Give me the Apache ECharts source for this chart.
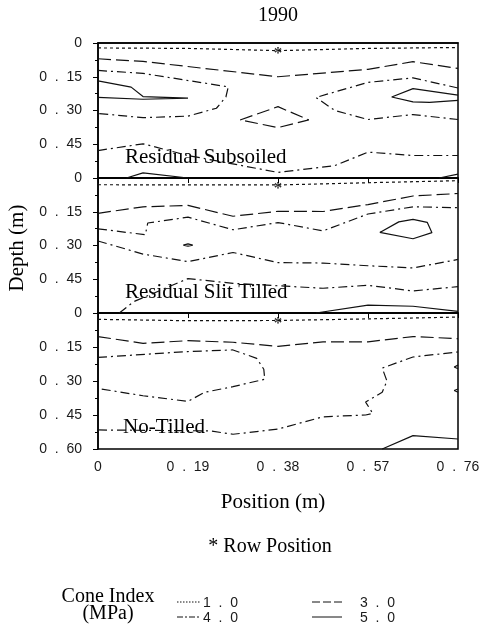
<!DOCTYPE html>
<html>
<head>
<meta charset="utf-8">
<script src="https://cdn.jsdelivr.net/npm/echarts@6/dist/echarts.min.js"></script>
<style>
html,body{margin:0;padding:0;background:#fff;}
#chart{width:483px;height:638px;}
</style>
</head>
<body>
<div id="chart"></div>
<script>
// ---------- data (x = position m, y = depth m) ----------
const xTicks = [0, 0.19, 0.38, 0.57, 0.76];
const depthTicks = [0, 0.15, 0.30, 0.45, 0.60];
const panelNames = ['Residual Subsoiled', 'Residual Slit Tilled', 'No-Tilled'];
const levels = ['1.0', '3.0', '4.0', '5.0'];
const rowPosition = [0.38, 0.024];

// Panel 1 : Residual Subsoiled
const sub_10a = [[0,0.022],[0.19,0.024],[0.38,0.034],[0.57,0.024],[0.76,0.02]];
const sub_30a = [[0,0.07],[0.095,0.082],[0.38,0.15],[0.57,0.117],[0.665,0.083],[0.76,0.113]];
const sub_30b = [[0.3,0.342],[0.38,0.283],[0.445,0.342],[0.38,0.376],[0.3,0.342]];
const sub_40a = [[0,0.122],[0.095,0.135],[0.275,0.195],[0.27,0.24],[0.25,0.29],[0.19,0.325],[0.095,0.332],[0,0.313]];
const sub_40b = [[0.76,0.2],[0.665,0.155],[0.57,0.175],[0.46,0.242],[0.5,0.3],[0.57,0.34],[0.665,0.318],[0.76,0.34]];
const sub_40c = [[0,0.478],[0.095,0.448],[0.19,0.5],[0.38,0.575],[0.5,0.545],[0.57,0.485],[0.665,0.5],[0.76,0.5]];
const sub_50a = [[0,0.168],[0.07,0.196],[0.095,0.238],[0.19,0.245],[0.095,0.25],[0,0.242]];
const sub_50b = [[0.76,0.232],[0.665,0.203],[0.62,0.24],[0.665,0.262],[0.7,0.264],[0.76,0.255]];
const sub_50c = [[0.06,0.6],[0.095,0.577],[0.19,0.6]];
const sub_50d = [[0.72,0.6],[0.76,0.583]];

// Panel 2 : Residual Slit Tilled
const slit_10a = [[0,0.03],[0.38,0.031],[0.57,0.021],[0.76,0.012]];
const slit_30a = [[0,0.157],[0.095,0.128],[0.19,0.122],[0.285,0.17],[0.38,0.148],[0.475,0.149],[0.57,0.118],[0.665,0.08],[0.76,0.069]];
const slit_40a = [[0,0.226],[0.1,0.252],[0.105,0.2],[0.19,0.174],[0.285,0.23],[0.38,0.198],[0.475,0.235],[0.57,0.16],[0.665,0.128],[0.76,0.132]];
const slit_40b = [[0,0.28],[0.095,0.338],[0.19,0.372],[0.285,0.331],[0.38,0.376],[0.475,0.378],[0.57,0.39],[0.665,0.4],[0.76,0.362]];
const slit_40c = [[0.045,0.6],[0.075,0.55],[0.19,0.447],[0.285,0.468],[0.475,0.49],[0.57,0.477],[0.665,0.502],[0.76,0.483]];
const slit_50a = [[0.18,0.298],[0.19,0.293],[0.2,0.298],[0.19,0.303],[0.18,0.298]];
const slit_50b = [[0.595,0.242],[0.635,0.195],[0.665,0.184],[0.695,0.197],[0.705,0.243],[0.665,0.27],[0.595,0.242]];
const slit_50c = [[0.46,0.6],[0.57,0.565],[0.665,0.57],[0.76,0.593]];

// Panel 3 : No-Tilled
const no_10a = [[0,0.028],[0.19,0.034],[0.38,0.033],[0.57,0.026],[0.76,0.018]];
const no_30a = [[0,0.104],[0.095,0.134],[0.19,0.122],[0.285,0.129],[0.38,0.147],[0.475,0.127],[0.57,0.127],[0.665,0.104],[0.76,0.113]];
const no_40a = [[0,0.196],[0.19,0.17],[0.285,0.163],[0.335,0.2],[0.35,0.248],[0.352,0.292],[0.285,0.325],[0.225,0.35],[0.19,0.39],[0.095,0.365],[0,0.333]];
const no_40b = [[0,0.516],[0.236,0.52],[0.285,0.535],[0.38,0.512],[0.475,0.458],[0.565,0.45],[0.58,0.443],[0.565,0.393],[0.6,0.35],[0.61,0.3],[0.6,0.243],[0.665,0.194],[0.76,0.172]];
const no_50a = [[0.76,0.23],[0.752,0.238],[0.76,0.246]];
const no_50b = [[0.76,0.335],[0.752,0.342],[0.76,0.35]];
const no_50c = [[0.6,0.6],[0.665,0.541],[0.76,0.556]];

const contours = [
  [0,'1.0',sub_10a],[0,'3.0',sub_30a],[0,'3.0',sub_30b],[0,'4.0',sub_40a],[0,'4.0',sub_40b],[0,'4.0',sub_40c],
  [0,'5.0',sub_50a],[0,'5.0',sub_50b],[0,'5.0',sub_50c],[0,'5.0',sub_50d],
  [1,'1.0',slit_10a],[1,'3.0',slit_30a],[1,'4.0',slit_40a],[1,'4.0',slit_40b],[1,'4.0',slit_40c],
  [1,'5.0',slit_50a],[1,'5.0',slit_50b],[1,'5.0',slit_50c],
  [2,'1.0',no_10a],[2,'3.0',no_30a],[2,'4.0',no_40a],[2,'4.0',no_40b],
  [2,'5.0',no_50a],[2,'5.0',no_50b],[2,'5.0',no_50c]
];

// ---------- styles ----------
const INK = '#111';
const dashOf = {'1.0':[3,3], '3.0':[13,5], '4.0':[9,4,2,4], '5.0':'solid'};
const SERIF = 'Liberation Serif';
const SANS = 'Liberation Sans';

function spaced(s){ return s.replace('.', '  .  '); }
function fmtTick(v){
  if (Math.abs(v) < 1e-9) return '0';
  return spaced(v.toFixed(2));
}

const PANEL_TOP = [43, 178, 313];
const PANEL_H = [135, 135, 136];

const grids = PANEL_TOP.map((t,i)=>({left:98, top:t, width:360, height:PANEL_H[i],
  show:true, borderColor:'#000', borderWidth:1.5, backgroundColor:'transparent'}));

const xAxes = [];
for (let i=0;i<3;i++){
  xAxes.push({type:'value', gridIndex:i, min:xTicks[0], max:xTicks[xTicks.length-1], interval:0.19,
    position:'bottom',
    axisLine:{show:true, lineStyle:{color:'#000', width:1.5}},
    axisTick:{show:i===2, length:5, lineStyle:{color:'#000'}},
    axisLabel:{show:i===2, margin:11, fontFamily:SANS, fontSize:14, color:'#1a1a1a', formatter:fmtTick},
    splitLine:{show:false}});
}
for (let i=1;i<3;i++){
  xAxes.push({type:'value', gridIndex:i, min:xTicks[0], max:xTicks[xTicks.length-1], interval:0.19,
    position:'top', axisLine:{show:false},
    axisTick:{show:true, inside:true, length:5, lineStyle:{color:'#000'}},
    axisLabel:{show:false}, splitLine:{show:false}});
}
const yAxes = [];
for (let i=0;i<3;i++){
  yAxes.push({type:'value', gridIndex:i, inverse:true, min:depthTicks[0], max:depthTicks[depthTicks.length-1], interval:0.15,
    axisLine:{show:true, lineStyle:{color:'#000', width:1.5}},
    axisTick:{show:true, length:5, lineStyle:{color:'#000'}},
    minorTick:{show:true, splitNumber:2, length:3, lineStyle:{color:'#000'}},
    axisLabel:{show:true, margin:16, fontFamily:SANS, fontSize:14, color:'#1a1a1a', formatter:fmtTick, showMaxLabel: i===2},
    splitLine:{show:false}});
}

const series = contours.map(([p, lev, d])=>({
  type:'line', xAxisIndex:p, yAxisIndex:p, data:d, symbol:'none', smooth:false, silent:true,
  lineStyle:{color:INK, width:1.2, type:dashOf[lev]}, animation:false, clip:false
}));
for (let p=0;p<3;p++){
  series.push({type:'scatter', xAxisIndex:p, yAxisIndex:p, data:[rowPosition], symbol:'circle', symbolSize:1,
    itemStyle:{color:'rgba(0,0,0,0)'}, silent:true, animation:false,
    label:{show:true, position:'inside', formatter:'*', fontFamily:SERIF, fontWeight:'bold', fontSize:17, color:'#000', offset:[0,5]}});
}

// ---------- texts and legend ----------
const txt = (s, x, y, size, extra) => Object.assign({type:'text', x, y, silent:true,
  style:{text:s, font:size+'px "'+SERIF+'"', fill:'#000', textAlign:'center', textVerticalAlign:'middle', align:'center', verticalAlign:'middle'}}, extra||{});
const val = (s, x, y) => ({type:'text', x, y, silent:true,
  style:{text:spaced(s), font:'14px "'+SANS+'"', fill:'#1a1a1a', textAlign:'left', textVerticalAlign:'middle', align:'left', verticalAlign:'middle'}});
const sample = (x1, x2, y, dash) => ({type:'line', silent:true,
  shape:{x1, y1:y, x2, y2:y}, style:{stroke:INK, lineWidth:1, lineDash: dash==='solid'?null:dash}});

const graphic = [
  txt('1990', 278, 16, 20),
  txt('Depth (m)', 17, 248, 21, {rotation: Math.PI/2}),
  txt('Position (m)', 273, 502, 21),
  txt('* Row Position', 270, 547, 20),
  txt('Cone Index', 108, 597, 20),
  txt('(MPa)', 108, 614, 20),
  sample(177, 200, 602, [1.5,1.5]),
  val(levels[0], 203, 603),
  sample(177, 200, 617, [6,2,2,2]),
  val(levels[2], 203, 618),
  sample(312, 342, 602, [8,3]),
  val(levels[1], 360, 603),
  sample(312, 342, 617, 'solid'),
  val(levels[3], 360, 618),
  txt(panelNames[0], 125, 157, 21),
  txt(panelNames[1], 125, 292, 21),
  txt(panelNames[2], 123, 427, 21)
];
// left-align the panel names
for (const g of graphic.slice(-3)) { g.style.textAlign='left'; g.style.align='left'; }

const chart = echarts.init(document.getElementById('chart'), null, {renderer:'canvas'});
chart.setOption({
  animation:false,
  backgroundColor:'#fff',
  grid:grids, xAxis:xAxes, yAxis:yAxes, series, graphic
});
</script>
</body>
</html>
